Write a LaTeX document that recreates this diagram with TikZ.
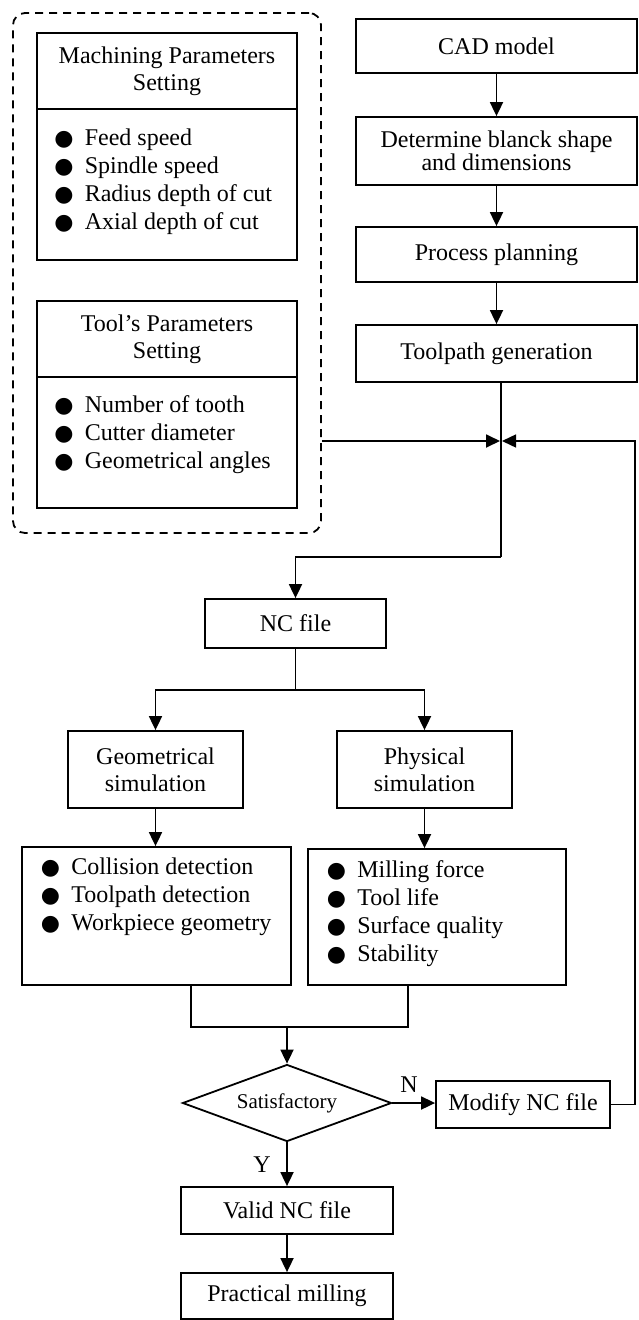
\documentclass[tikz,border=0pt]{standalone}
\usepackage{fontspec}
\setmainfont{Liberation Serif}
\newfontfamily\dejavu{DejaVu Sans}
\usetikzlibrary{arrows.meta,shapes.geometric,calc}
\newcommand\fsz{\fontsize{24}{27}\selectfont}
\newcommand\blt{\makebox[30.5pt][l]{\dejavu\fontsize{22}{22}\selectfont ●}}
\begin{document}
\begin{tikzpicture}[x=1pt,y=-1pt,
  box/.style={draw, line width=1.8pt, inner sep=0pt, font=\fsz, align=center},
  lst/.style={inner sep=0pt, font=\fontsize{24}{28}\selectfont, align=left, anchor=north west},
  ln/.style={line width=1.8pt},
  thin/.style={line width=1.4pt},
  arr/.style={line width=1.8pt, -{Triangle[length=14pt,width=13pt]}},
  dbox/.style={draw, line width=1.8pt, dash pattern=on 8pt off 6pt, rounded corners=12pt, inner sep=0pt}]
\useasboundingbox (0,0) rectangle (639,1320);
% dashed container
\node[dbox, minimum width=308pt, minimum height=520pt] (dash) at (167,273) {};
% machining parameters
\node[box, minimum width=260pt, minimum height=76pt] (mhead) at (167,71) {Machining Parameters\\Setting};
\node[box, minimum width=260pt, minimum height=151pt] (mlist) at (167,184.5) {};
\node[lst] (mtext) at ($(mlist.north west)+(18,21)$) {\blt Feed speed\\\blt Spindle speed\\\blt Radius depth of cut\\\blt Axial depth of cut};
% tool parameters
\node[box, minimum width=260pt, minimum height=76pt] (thead) at (167,339) {Tool’s Parameters\\Setting};
\node[box, minimum width=260pt, minimum height=131pt] (tlist) at (167,442.5) {};
\node[lst] (ttext) at ($(tlist.north west)+(18,19)$) {\blt Number of tooth\\\blt Cutter diameter\\\blt Geometrical angles};
% right column
\node[box, minimum width=281pt, minimum height=54pt] (cad) at (496.5,46) {CAD model};
\node[box, minimum width=281pt, minimum height=68pt, font=\fontsize{24}{21}\selectfont] (det) at (496.5,151) {Determine blanck shape\\and dimensions};
\node[box, minimum width=281pt, minimum height=55pt] (proc) at (496.5,254.5) {Process planning};
\node[box, minimum width=281pt, minimum height=57pt] (tp) at (496.5,353.5) {Toolpath generation};
\draw[arr] (cad.south) -- (det.north);
\draw[arr] (det.south) -- (proc.north);
\draw[arr] (proc.south) -- (tp.north);
% junction
\coordinate (J) at (501,441);
\coordinate (FB) at (635,441);
\coordinate (K) at (501,557);
\draw[thin] (tp.south -| J) -- (K);
\draw[arr] (dash.east |- J) -- ($(J)+(-1,0)$);
% NC file
\node[box, minimum width=181pt, minimum height=49pt] (nc) at (295.5,623.5) {NC file};
\draw[arr] (K) -| (nc.north);
\coordinate (S) at (295.5,690);
\node[box, minimum width=175pt, minimum height=77pt] (geo) at (155.5,769.5) {Geometrical\\simulation};
\node[box, minimum width=175pt, minimum height=77pt] (phys) at (424.5,769.5) {Physical\\simulation};
\draw[ln] (nc.south) -- (S);
\draw[arr] (S) -| (geo.north);
\draw[arr] (S) -| (phys.north);
% lists
\node[box, minimum width=269pt, minimum height=138pt] (clist) at (156.5,916) {};
\node[lst] (ctext) at ($(clist.north west)+(19.5,12)$) {\blt Collision detection\\\blt Toolpath detection\\\blt Workpiece geometry};
\node[box, minimum width=258pt, minimum height=136pt] (plist) at (437,917) {};
\node[lst] (ptext) at ($(plist.north west)+(19.5,12)$) {\blt Milling force\\\blt Tool life\\\blt Surface quality\\\blt Stability};
\draw[arr] (geo.south) -- (geo.south |- clist.north);
\draw[arr] (phys.south) -- (phys.south |- plist.north);
% merge
\coordinate (ML) at (191,1027);
\coordinate (MR) at (408,1027);
\coordinate (M) at (287,1027);
\draw[ln] (clist.south -| ML) -- (ML) -- (MR) -- (plist.south -| MR);
% decision
\node[draw, line width=1.8pt, diamond, aspect=2.7, inner sep=0pt, minimum width=209pt, minimum height=77pt, font=\fontsize{21}{21}\selectfont] (dia) at (287,1103) {Satisfactory};
\draw[arr] (M) -- (dia.north);
\node[box, minimum width=174pt, minimum height=47pt] (mod) at (523,1104.5) {Modify NC file};
\draw[arr] (dia.east) -- (dia.east -| mod.west);
\draw[thin, -{Triangle[length=14pt,width=13pt]}] (mod.east) -| (FB) -- ($(J)+(1,0)$);
\node[font=\fsz, inner sep=0pt] (nlab) at (409,1085) {N};
% outputs
\node[box, minimum width=212pt, minimum height=47pt] (valid) at (287,1210.5) {Valid NC file};
\node[box, minimum width=212pt, minimum height=46pt] (prac) at (287,1296) {Practical milling};
\draw[arr] (dia.south) -- (valid.north);
\node[font=\fsz, inner sep=0pt] (ylab) at (262,1165) {Y};
\draw[arr] (valid.south) -- (prac.north);
\end{tikzpicture}
\end{document}
